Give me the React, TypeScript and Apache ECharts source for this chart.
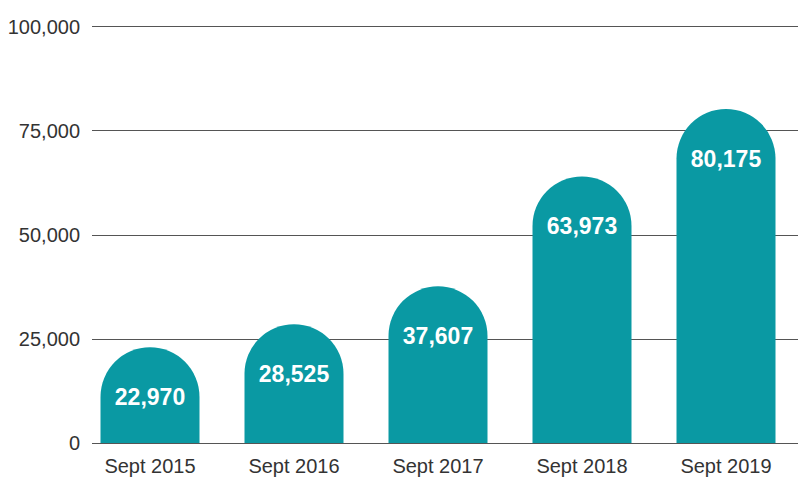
import React, { useEffect, useRef } from "react";
import * as echarts from "echarts";

const categories = ["Sept 2015", "Sept 2016", "Sept 2017", "Sept 2018", "Sept 2019"];
const values = [22970, 28525, 37607, 63973, 80175];
const yTicks = [0, 25000, 50000, 75000, 100000];

const FONT = "'Liberation Sans', Arial, Helvetica, sans-serif";
const fmt = (v: number) => v.toLocaleString("en-US");

export default function App() {
  const ref = useRef<HTMLDivElement>(null);
  useEffect(() => {
    if (!ref.current) return;
    const chart = echarts.init(ref.current, null, { renderer: "svg" });
    const top = 26.5;
    const bottom = 36;
    chart.setOption({
      animation: false,
      grid: [
        { left: 92, right: 0, top, bottom },
        { left: 78, width: 725, top, bottom },
      ],
      xAxis: [
        { type: "value", gridIndex: 0, show: false, min: 0, max: 1 },
        {
          type: "category",
          gridIndex: 1,
          data: categories,
          axisLine: { show: false },
          axisTick: { show: false },
          axisLabel: { color: "#333", fontSize: 20, fontFamily: FONT, margin: 13 },
        },
      ],
      yAxis: [
        {
          type: "value",
          gridIndex: 0,
          min: yTicks[0],
          max: yTicks[yTicks.length - 1],
          interval: 25000,
          axisLine: { show: false },
          axisTick: { show: false },
          axisLabel: {
            color: "#333",
            fontSize: 20,
            fontFamily: FONT,
            margin: 12,
            formatter: (v: number) => fmt(v),
          },
          splitLine: { show: true, lineStyle: { color: "#555", width: 1 } },
        },
        {
          type: "value",
          gridIndex: 1,
          min: yTicks[0],
          max: yTicks[yTicks.length - 1],
          show: false,
          splitLine: { show: false },
        },
      ],
      series: [
        {
          type: "bar",
          xAxisIndex: 1,
          yAxisIndex: 1,
          data: values,
          barWidth: 99,
          itemStyle: { color: "#0a99a3", borderRadius: [50, 50, 0, 0] },
          label: {
            show: true,
            position: "insideTop",
            distance: 38,
            color: "#fff",
            fontSize: 23,
            fontWeight: "bold",
            fontFamily: FONT,
            formatter: (p: any) => fmt(p.value),
          },
          z: 3,
        },
      ],
    });
    return () => chart.dispose();
  }, []);
  return (
    <div
      ref={ref}
      style={{ position: "fixed", left: 0, top: 0, width: 798, height: 479, background: "#fff" }}
    />
  );
}
